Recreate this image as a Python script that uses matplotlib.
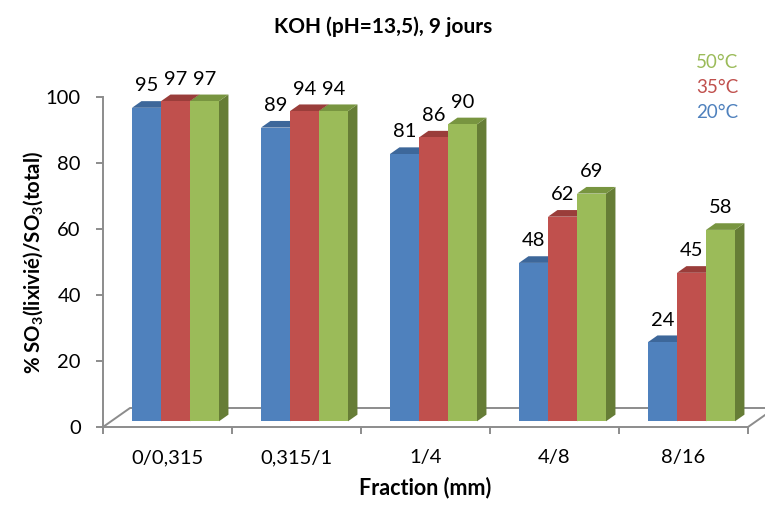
import matplotlib
matplotlib.use("Agg")
import matplotlib.pyplot as plt
from matplotlib.patches import Polygon

plt.rcParams['font.family'] = ['Lato', 'DejaVu Sans']
plt.rcParams['mathtext.fontset'] = 'custom'
plt.rcParams['mathtext.rm'] = 'Lato'
plt.rcParams['mathtext.bf'] = 'Lato:bold'

categories = ["0/0,315", "0,315/1", "1/4", "4/8", "8/16"]
series_names = ["20°C", "35°C", "50°C"]
values_20 = [95, 89, 81, 48, 24]
values_35 = [97, 94, 86, 62, 45]
values_50 = [97, 94, 90, 69, 58]
series_values = [values_20, values_35, values_50]

front_cols = ["#4F81BD", "#C0504D", "#9BBB59"]
top_cols = ["#3D679A", "#9A3D3A", "#789540"]
side_cols = ["#375C8A", "#8A3633", "#667D36"]

W, H = 765, 505
fig = plt.figure(figsize=(W / 100, H / 100), dpi=100)
ax_left, ax_right, ax_top, ax_bot = 103, 748, 97, 427
ax = fig.add_axes([ax_left / W, 1 - ax_bot / H, (ax_right - ax_left) / W, (ax_bot - ax_top) / H])

n = len(categories)
ax.set_xlim(-0.5, n - 0.5)
ax.set_ylim(0, 100)

gray = "#8C8C8C"
# depth projection (full floor depth)
DX = 27 / 129.0
DY = 19 / 3.3
d0, d1 = 0.3, 0.65
ddx, ddy = (d1 - d0) * DX, (d1 - d0) * DY

# floor
ax.plot([-0.5, -0.5 + DX, n - 0.5 + DX], [0, DY, DY], color=gray, lw=1.4, clip_on=False, zorder=1)
ax.plot([n - 0.5, n - 0.5 + DX], [0, DY], color=gray, lw=1.4, clip_on=False, zorder=1)

w = 0.2248
start = 0.162
z = 2
for i in range(n):
    for j in range(3):
        v = series_values[j][i]
        x0 = i - 0.5 + start + j * w + d0 * DX
        yb = d0 * DY
        yt = v + d0 * DY
        side = Polygon([(x0 + w, yb), (x0 + w + ddx, yb + ddy), (x0 + w + ddx, yt + ddy), (x0 + w, yt)],
                       closed=True, fc=side_cols[j], ec='none', clip_on=False, zorder=z)
        top = Polygon([(x0, yt), (x0 + w, yt), (x0 + w + ddx, yt + ddy), (x0 + ddx, yt + ddy)],
                      closed=True, fc=top_cols[j], ec='none', clip_on=False, zorder=z)
        front = Polygon([(x0, yb), (x0 + w, yb), (x0 + w, yt), (x0, yt)],
                        closed=True, fc=front_cols[j], ec='none', clip_on=False, zorder=z + 0.5)
        ax.add_patch(side)
        ax.add_patch(top)
        ax.add_patch(front)
        z += 1
        ax.annotate(str(v), (x0 + w / 2, yt + ddy), xytext=(0, 5), textcoords='offset points',
                    ha='center', va='bottom', fontsize=14.5, color='black', zorder=50,
                    annotation_clip=False)

# axes styling
for s in ['top', 'right']:
    ax.spines[s].set_visible(False)
for s in ['left', 'bottom']:
    ax.spines[s].set_color(gray)
    ax.spines[s].set_linewidth(1.4)
ax.patch.set_alpha(0)

ax.set_yticks([0, 20, 40, 60, 80, 100])
ax.tick_params(axis='y', length=5, width=1.4, color=gray, pad=11, labelsize=14.5)
ax.set_xticks([i - 0.5 for i in range(n + 1)])
ax.set_xticklabels([])
ax.tick_params(axis='x', which='major', length=5, width=1.4, color=gray)
ax.set_xticks(list(range(n)), minor=True)
ax.set_xticklabels(categories, minor=True)
ax.tick_params(axis='x', which='minor', length=0, pad=16, labelsize=14.5)

fig.text(425 / W, 1 - 488 / H, "Fraction (mm)", ha='center', va='center',
         fontsize=15.5, fontweight='bold')
fig.text(33 / W, 1 - 262 / H, r"% SO$_\mathbf{3}$(lixivié)/SO$_\mathbf{3}$(total)", rotation=90,
         ha='center', va='center', fontsize=14.7, fontweight='bold')
fig.text(383 / W, 1 - 27 / H, "KOH (pH=13,5), 9 jours", ha='center', va='center',
         fontsize=15, fontweight='bold')

# legend as coloured texts
leg_y = [113, 88, 62]
for j in range(3):
    fig.text(738 / W, 1 - leg_y[j] / H, series_names[j], ha='right', va='center',
             fontsize=13.5, color=front_cols[j])

fig.savefig("out.png", dpi=100)
